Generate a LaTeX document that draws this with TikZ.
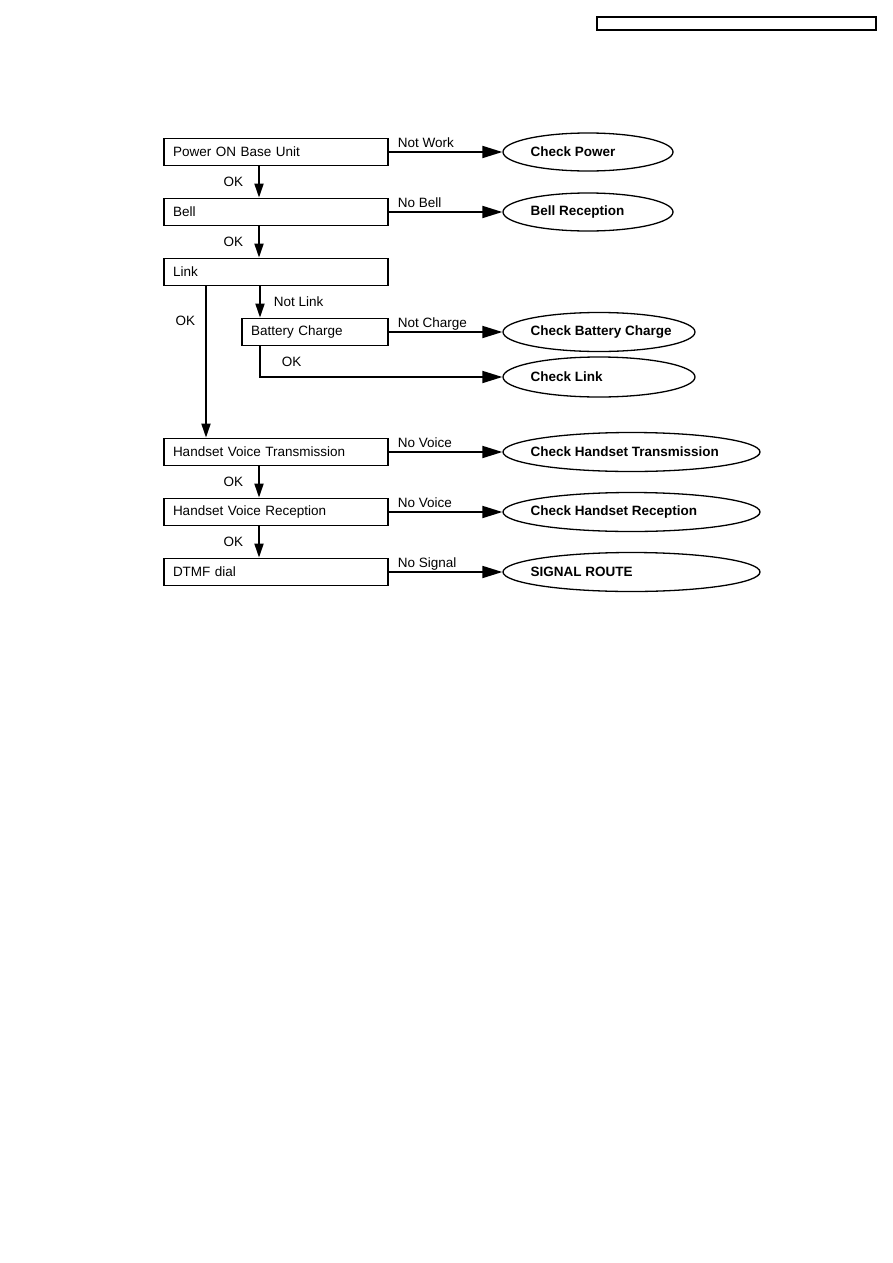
\documentclass[tikz,border=0pt]{standalone}
\usepackage{fontspec}
\setmainfont{Liberation Sans}
\usetikzlibrary{arrows.meta,shapes.geometric,calc}
\begin{document}
\begin{tikzpicture}[x=1pt,y=-1pt,
  font=\fontsize{13.5pt}{16pt}\selectfont,
  box/.style={draw, line width=1.8pt, rectangle, minimum height=27pt, inner xsep=9pt, inner ysep=0pt, align=left},
  ell/.style={draw, ellipse, line width=1.3pt, inner sep=0pt},
  etxt/.style={anchor=west, xshift=28pt, inner sep=0pt, font=\fontsize{13.5pt}{16pt}\selectfont\bfseries},
  harr/.style={line width=1.8pt, -{Triangle[length=20pt,width=12pt]}},
  varr/.style={line width=1.8pt, -{Triangle[length=14pt,width=9pt]}},
  hlbl/.style={pos=0, anchor=base west, xshift=8pt, yshift=5pt, inner sep=0pt},
  oklbl/.style={pos=0.5, anchor=east, xshift=-15pt, inner sep=0pt}
]
\useasboundingbox (0,0) rectangle (893,1263);
\fill[white] (0,0) rectangle (893,1263);

% header box
\node[draw, line width=1.3pt, minimum width=279pt, minimum height=13pt, inner sep=0pt] (hdr) at (736.5,23.5) {};

% process boxes
\node[box, text width=206pt] (p)   at (276,152) {Power ON Base Unit};
\node[box, text width=206pt] (b)   at (276,212) {Bell};
\node[box, text width=206pt] (l)   at (276,272) {Link};
\node[box, text width=128pt] (bc)  at (315,332) {Battery Charge};
\node[box, text width=206pt] (hvt) at (276,452) {Handset Voice Transmission};
\node[box, text width=206pt] (hvr) at (276,512) {Handset Voice Reception};
\node[box, text width=206pt] (dt)  at (276,572) {DTMF dial};

% result ellipses
\node[ell, minimum width=170pt, minimum height=38pt, label={[etxt]west:Check Power}] (cp) at (588,152) {};
\node[ell, minimum width=170pt, minimum height=38pt, label={[etxt]west:Bell Reception}] (br) at (588,212) {};
\node[ell, minimum width=192pt, minimum height=39pt, label={[etxt]west:Check Battery Charge}] (cbc) at (599,332) {};
\node[ell, minimum width=192pt, minimum height=40pt, label={[etxt]west:Check Link}] (cl) at (599,377) {};
\node[ell, minimum width=257pt, minimum height=39pt, label={[etxt]west:Check Handset Transmission}] (cht) at (631.5,452) {};
\node[ell, minimum width=257pt, minimum height=39pt, label={[etxt]west:Check Handset Reception}] (chr) at (631.5,512) {};
\node[ell, minimum width=257pt, minimum height=39pt, label={[etxt]west:SIGNAL ROUTE}] (sr) at (631.5,572) {};

% helper x positions
\coordinate (vx) at (259,0);
\coordinate (lx) at (206,0);
\coordinate (nx) at (260,0);

% horizontal connectors
\draw[harr] (p.east) -- node[hlbl]{Not Work} (cp.west);
\draw[harr] (b.east) -- node[hlbl]{No Bell} (br.west);
\draw[harr] (bc.east) -- node[hlbl]{Not Charge} (cbc.west);
\draw[harr] (hvt.east) -- node[hlbl]{No Voice} (cht.west);
\draw[harr] (hvr.east) -- node[hlbl]{No Voice} (chr.west);
\draw[harr] (dt.east) -- node[hlbl]{No Signal} (sr.west);

% vertical connectors
\draw[varr] (p.south -| vx) -- node[oklbl]{OK} (b.north -| vx);
\draw[varr] (b.south -| vx) -- node[oklbl]{OK} (l.north -| vx);
\draw[varr] (l.south -| lx) -- node[pos=0.229, anchor=east, xshift=-10pt, inner sep=0pt]{OK} (hvt.north -| lx);
\draw[varr] (l.south -| nx) -- node[pos=0.5, anchor=west, xshift=13pt, inner sep=0pt]{Not Link} (bc.north -| nx);
\draw[harr] (bc.south -| nx) |- node[pos=0.25, anchor=west, xshift=21pt, inner sep=0pt]{OK} (cl.west);
\draw[varr] (hvt.south -| vx) -- node[oklbl]{OK} (hvr.north -| vx);
\draw[varr] (hvr.south -| vx) -- node[oklbl]{OK} (dt.north -| vx);
\end{tikzpicture}
\end{document}
